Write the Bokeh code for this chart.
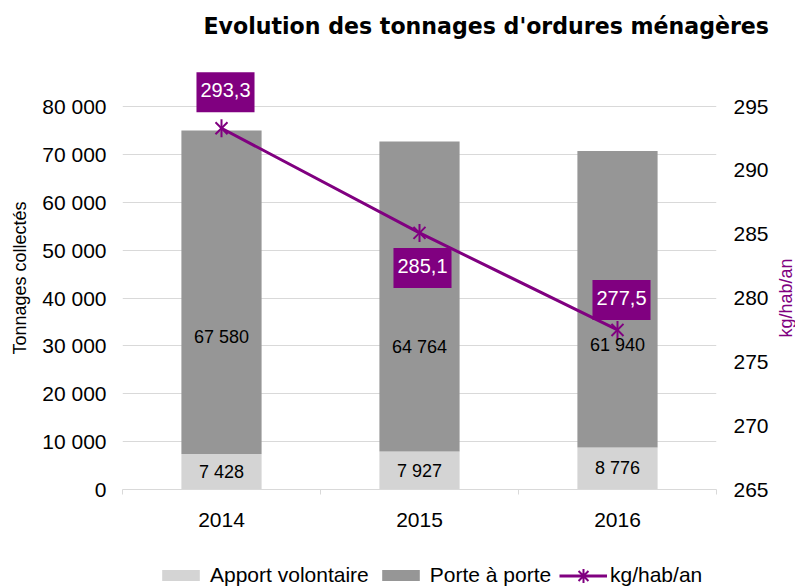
import numpy as np
from bokeh.plotting import figure
from bokeh.layouts import column, row
from bokeh.models import (Range1d, LinearAxis, FixedTicker, CustomJSTickFormatter,
                          Label, Legend, LegendItem, ColumnDataSource, Title)
from bokeh.embed import file_html
from bokeh.resources import INLINE

# ---- data ----
years = ["2014", "2015", "2016"]
apport = [7428, 7927, 8776]          # Apport volontaire (t)
porte = [67580, 64764, 61940]        # Porte à porte (t)
kg_hab = [293.3, 285.1, 277.5]       # kg/hab/an
left_ticks = [0, 10000, 20000, 30000, 40000, 50000, 60000, 70000, 80000]
right_ticks = [265, 270, 275, 280, 285, 290, 295]
series_names = ["Apport volontaire", "Porte à porte", "kg/hab/an"]
title_text = "Evolution des tonnages d'ordures ménagères"

# ---- styles / layout ----
FONT = "Liberation Sans"
PURPLE = "#800080"
LIGHT = "#d4d4d4"
DARK = "#969696"
GRID = "#d9d9d9"
HEADROOM = 40 / 383          # extra frame space above the top gridline (fraction)
val_dx = [4, 3, 4]
val_dy = [36, -35, 30]
porte_dy = [-45, -50, -46]

def fmt_int(v):
    return f"{v:,}".replace(",", " ")

def extend(lo, hi):
    return Range1d(lo, hi + (hi - lo) * HEADROOM)

xs = np.arange(len(years)) + 0.5
kg_range = extend(right_ticks[0], right_ticks[-1])

p = figure(width=775, height=560, output_backend="svg", toolbar_location=None,
           x_range=Range1d(0, len(years)), y_range=extend(left_ticks[0], left_ticks[-1]),
           min_border_left=122, min_border_right=59, min_border_top=66,
           min_border_bottom=71)
p.extra_y_ranges = {"kg": kg_range}
p.outline_line_color = None
p.background_fill_color = "white"
p.border_fill_color = "white"

src = ColumnDataSource(dict(x=xs, apport=apport, porte=porte))
bars = p.vbar_stack(["apport", "porte"], x="x", width=0.405, source=src,
                    fill_color=[LIGHT, DARK], line_color=None)

r_line = p.line(xs, kg_hab, y_range_name="kg", line_color=PURPLE, line_width=3)
r_x = p.scatter(xs, kg_hab, y_range_name="kg", marker="x", size=17,
                line_color=PURPLE, line_width=2)
r_v = p.scatter(xs, kg_hab, y_range_name="kg", marker="dash", angle=np.pi / 2, size=18,
                line_color=PURPLE, line_width=2)

# x axis
xa = p.xaxis[0]
xa.ticker = FixedTicker(ticks=list(xs), minor_ticks=list(range(len(years) + 1)))
xa.major_label_overrides = {float(x): y for x, y in zip(xs, years)}
xa.major_tick_line_color = None
xa.major_tick_out = 0
xa.major_tick_in = 0
xa.minor_tick_in = 0
xa.minor_tick_out = 5
xa.minor_tick_line_color = GRID
xa.axis_line_color = GRID
xa.major_label_standoff = 18
xa.major_label_text_font = FONT
xa.major_label_text_font_size = "21px"
xa.major_label_text_color = "black"

# left axis
fmt = CustomJSTickFormatter(code="return Math.round(tick).toString().replace(/\\B(?=(\\d{3})+(?!\\d))/g, ' ');")
ya = p.yaxis[0]
ya.ticker = FixedTicker(ticks=left_ticks)
ya.formatter = fmt
ya.axis_line_color = None
ya.major_tick_line_color = None
ya.major_tick_out = 0
ya.major_tick_in = 0
ya.minor_tick_line_color = None
ya.major_label_standoff = 16
ya.major_label_text_font = FONT
ya.major_label_text_font_size = "21px"
ya.major_label_text_color = "black"
ya.axis_label = "Tonnages collectés"
ya.axis_label_text_font = FONT
ya.axis_label_text_font_size = "18px"
ya.axis_label_text_font_style = "normal"
ya.axis_label_text_color = "black"
ya.axis_label_standoff = 9

p.ygrid.ticker = FixedTicker(ticks=left_ticks)
p.ygrid.grid_line_color = GRID
p.xgrid.grid_line_color = None

# right axis (tick labels only; its title lives in the strip on the right)
ra = LinearAxis(y_range_name="kg", ticker=FixedTicker(ticks=right_ticks))
ra.axis_line_color = None
ra.major_tick_line_color = None
ra.major_tick_out = 0
ra.major_tick_in = 0
ra.minor_tick_line_color = None
ra.major_label_standoff = 17
ra.major_label_text_font = FONT
ra.major_label_text_font_size = "21px"
ra.major_label_text_color = "black"
p.add_layout(ra, "right")

# title (spacer first, closest to the frame)
p.add_layout(Title(text=" ", text_font_size="20px", standoff=4), "above")
p.add_layout(Title(text=title_text, align="left", offset=81, standoff=0,
                   text_font="DejaVu Sans", text_font_size="22.1px", text_font_style="bold",
                   text_color="black"), "above")

# bar value labels
for x, a, b, dy in zip(xs, apport, porte, porte_dy):
    p.add_layout(Label(x=x, y=a / 2, text=fmt_int(a), text_align="center",
                       text_baseline="middle", text_font=FONT, text_font_size="18px",
                       text_color="black"))
    p.add_layout(Label(x=x, y=a + b / 2, y_offset=dy, text=fmt_int(b), text_align="center",
                       text_baseline="middle", text_font=FONT, text_font_size="18px",
                       text_color="black"))

# kg/hab/an labels
for x, v, dx, dy in zip(xs, kg_hab, val_dx, val_dy):
    p.add_layout(Label(x=x, y=v, y_range_name="kg", x_offset=dx, y_offset=dy,
                       text=f"{v:.1f}".replace(".", ","), text_align="center",
                       text_baseline="middle", text_color="white", text_font=FONT,
                       text_font_size="20px", background_fill_color=PURPLE,
                       padding=dict(left=4, right=4, top=11, bottom=15)))

# ---- right strip holding the secondary-axis title ----
rs = figure(width=20, height=560, output_backend="svg", toolbar_location=None,
            x_range=Range1d(0, 1), y_range=kg_range, min_border=0,
            x_axis_location=None, y_axis_location=None)
rs.grid.visible = False
rs.outline_line_color = None
rs.background_fill_color = "white"
rs.border_fill_color = "white"
rs.add_layout(Label(x=0.5, y=(right_ticks[0] + right_ticks[-1]) / 2, text=series_names[2],
                    angle=np.pi / 2, text_align="center", text_baseline="middle",
                    text_color=PURPLE, text_font=FONT, text_font_size="18px"))

# ---- legend strip (hidden copies of the series provide the legend glyphs) ----
lg = figure(width=795, height=26, output_backend="svg", toolbar_location=None,
            x_range=Range1d(0, 1), y_range=Range1d(0, 1), min_border=0,
            x_axis_location=None, y_axis_location=None)
lg.grid.visible = False
lg.outline_line_color = None
lg.background_fill_color = "white"
lg.border_fill_color = "white"
d_a = lg.vbar(x=xs, top=apport, width=0.4, fill_color=LIGHT, line_color=None, visible=False)
d_p = lg.vbar(x=xs, top=porte, width=0.4, fill_color=DARK, line_color=None, visible=False)
d_l = lg.line(xs, kg_hab, line_color=PURPLE, line_width=3, visible=False)
d_m = lg.scatter(xs, kg_hab, marker="asterisk", line_color=PURPLE, line_width=2,
                 visible=False)

common = dict(orientation="horizontal", padding=0, margin=0, border_line_color=None,
              background_fill_alpha=0, inactive_fill_alpha=0, label_text_font=FONT,
              label_text_font_size="21px", label_text_color="black")
leg1 = Legend(items=[LegendItem(label=series_names[0], renderers=[d_a]),
                     LegendItem(label=series_names[1], renderers=[d_p])],
              location=(157, -1), glyph_width=47, glyph_height=14, label_standoff=6,
              spacing=8, **common)
leg2 = Legend(items=[LegendItem(label=series_names[2], renderers=[d_l, d_m])],
              location=(559, -6.5), glyph_width=48, glyph_height=35, label_standoff=3,
              **common)
lg.add_layout(leg1)
lg.add_layout(leg2)

layout = column(row(p, rs, spacing=0), lg, spacing=0)
open("out.html", "w").write(file_html(layout, INLINE))
